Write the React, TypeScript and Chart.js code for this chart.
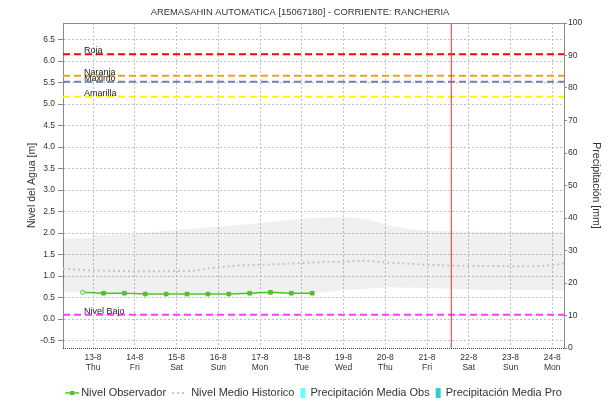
import React, { useEffect, useRef } from 'react';
import { Chart, registerables } from 'chart.js';

Chart.register(...registerables);

// ---------- data ----------
const chartTitle = 'AREMASAHIN AUTOMATICA [15067180] - CORRIENTE: RANCHERIA';
const leftAxisTitle = 'Nivel del Agua [m]';
const rightAxisTitle = 'Precipitación [mm]';

// x values are days counted from 13-8 00:00
const dayLabels = ['13-8', '14-8', '15-8', '16-8', '17-8', '18-8', '19-8', '20-8', '21-8', '22-8', '23-8', '24-8'];
const weekdayLabels = ['Thu', 'Fri', 'Sat', 'Sun', 'Mon', 'Tue', 'Wed', 'Thu', 'Fri', 'Sat', 'Sun', 'Mon'];
const xRange = [-0.72, 11.28];

const levelRange = [-0.674, 6.884];
const levelTicks = [-0.5, 0, 0.5, 1, 1.5, 2, 2.5, 3, 3.5, 4, 4.5, 5, 5.5, 6, 6.5];
const precipRange = [0, 100];
const precipTicks = [0, 10, 20, 30, 40, 50, 60, 70, 80, 90, 100];

const obsTimes = [-0.25, 0.25, 0.75, 1.25, 1.75, 2.25, 2.75, 3.25, 3.75, 4.25, 4.75, 5.25];
const obsLevels = [0.62, 0.6, 0.6, 0.58, 0.58, 0.58, 0.58, 0.58, 0.6, 0.62, 0.6, 0.6];

const histTimes = [-0.72, 0, 1, 1.6, 2.4, 2.8, 3.4, 4, 4.8, 5.6, 6, 6.4, 7, 8, 8.6, 9.8, 10.6, 11, 11.28];
const histMean = [1.17, 1.13, 1.11, 1.11, 1.12, 1.18, 1.24, 1.26, 1.29, 1.33, 1.33, 1.36, 1.32, 1.26, 1.24, 1.23, 1.23, 1.25, 1.29];

const bandTimes = [-0.72, -0.02, 0, 1, 1.6, 2, 3, 4, 5, 5.5, 6, 6.5, 7, 7.5, 8, 9, 10, 11.28];
const bandHigh = [1.87, 1.88, 1.95, 1.98, 2.04, 2.07, 2.15, 2.23, 2.34, 2.36, 2.37, 2.33, 2.2, 2.1, 2.05, 2.03, 2.02, 2.02];
const bandLow = [0.62, 0.62, 0.61, 0.6, 0.6, 0.6, 0.6, 0.6, 0.61, 0.62, 0.67, 0.7, 0.74, 0.73, 0.72, 0.68, 0.67, 0.67];

const thresholdNames = ['Roja', 'Naranja', 'Maximo', 'Amarilla', 'Nivel Bajo'];
const thresholdValues = [6.16, 5.66, 5.52, 5.17, 0.1];
const thresholdColors = ['#ff0000', '#ff9a1f', '#7282b2', '#f8f800', '#ff3cff'];

const nowTime = 8.58;

const legendLabels = ['Nivel Observador', 'Nivel Medio Historico', 'Precipitación Media Obs', 'Precipitación Media Pro'];

// ---------- styles ----------
const FONT = '"Liberation Sans", Arial, Helvetica, sans-serif';
const obsColor = 'rgb(82,192,44)';
const histColor = '#c4c4c4';
const gridColor = '#c2c2c2';
const axisColor = '#8a8a8a';
const textColor = '#333333';
const precipObsColor = '#66ffff';
const precipProColor = '#33cccc';

const pts = (xs: number[], ys: number[]) => xs.map((x, i) => ({ x, y: ys[i] }));

const decorPlugin = {
  id: 'decor',
  afterDraw(chart: any) {
    const { ctx, chartArea, scales } = chart;
    const { left, right, top, bottom } = chartArea;
    ctx.save();

    // plot outline top + dotted bottom axis line
    ctx.strokeStyle = axisColor;
    ctx.lineWidth = 1;
    ctx.beginPath();
    ctx.moveTo(left, top + 0.5);
    ctx.lineTo(right, top + 0.5);
    ctx.stroke();
    ctx.strokeStyle = '#444';
    ctx.setLineDash([1, 1]);
    ctx.beginPath();
    ctx.moveTo(left, bottom + 0.5);
    ctx.lineTo(right, bottom + 0.5);
    ctx.stroke();
    ctx.setLineDash([]);

    // threshold labels
    ctx.fillStyle = '#222';
    ctx.font = `9px ${FONT}`;
    ctx.textAlign = 'left';
    ctx.textBaseline = 'alphabetic';
    thresholdNames.forEach((name, i) => {
      const y = scales.y.getPixelForValue(thresholdValues[i]);
      ctx.fillText(name, left + 21, y - 1);
    });

    // title
    ctx.fillStyle = textColor;
    ctx.font = `10px ${FONT}`;
    const w10 = ctx.measureText(chartTitle).width;
    const size = Math.min(11, Math.max(8, (10 * 299) / w10));
    ctx.font = `${size.toFixed(2)}px ${FONT}`;
    ctx.textAlign = 'center';
    ctx.fillText(chartTitle, 300, 15);

    // legend
    ctx.font = `11px ${FONT}`;
    ctx.textAlign = 'left';
    ctx.textBaseline = 'middle';
    const ly = 393;
    const markerW = [14, 15, 5, 5];
    const markerGap = [2, 4, 5, 5];
    const itemGap = 6;
    const widths = legendLabels.map((l) => ctx.measureText(l).width);
    let total = 0;
    widths.forEach((w, i) => {
      total += markerW[i] + markerGap[i] + w + (i < widths.length - 1 ? itemGap : 0);
    });
    let sx = (left + right) / 2 - total / 2;
    legendLabels.forEach((label, i) => {
      if (i === 0) {
        ctx.strokeStyle = obsColor;
        ctx.lineWidth = 1.5;
        ctx.beginPath();
        ctx.moveTo(sx, ly);
        ctx.lineTo(sx + markerW[i], ly);
        ctx.stroke();
        ctx.fillStyle = obsColor;
        ctx.fillRect(sx + markerW[i] / 2 - 2, ly - 2, 4, 4);
      } else if (i === 1) {
        ctx.strokeStyle = histColor;
        ctx.lineWidth = 2;
        ctx.setLineDash([2, 3]);
        ctx.beginPath();
        ctx.moveTo(sx, ly);
        ctx.lineTo(sx + markerW[i], ly);
        ctx.stroke();
        ctx.setLineDash([]);
      } else {
        ctx.fillStyle = i === 2 ? precipObsColor : precipProColor;
        ctx.fillRect(sx, ly - 5, markerW[i], 10);
      }
      sx += markerW[i] + markerGap[i];
      ctx.fillStyle = textColor;
      ctx.fillText(label, sx, ly);
      sx += widths[i] + itemGap;
    });

    ctx.restore();
  },
};

export default function App() {
  const ref = useRef<HTMLCanvasElement>(null);

  useEffect(() => {
    const canvas = ref.current;
    if (!canvas) return;
    Chart.defaults.font.family = FONT;

    const thresholdSets = thresholdNames.map((name, i) => ({
      label: name,
      data: [
        { x: xRange[0], y: thresholdValues[i] },
        { x: xRange[1], y: thresholdValues[i] },
      ],
      borderColor: thresholdColors[i],
      borderWidth: 2,
      borderDash: [7, 4],
      pointRadius: 0,
      fill: false,
      order: 5,
      yAxisID: 'y',
    }));

    const chart = new Chart(canvas, {
      type: 'line',
      data: {
        datasets: [
          {
            label: 'band-low',
            data: pts(bandTimes, bandLow),
            borderWidth: 0,
            borderColor: 'rgba(0,0,0,0)',
            pointRadius: 0,
            fill: false,
            order: 10,
            yAxisID: 'y',
          },
          {
            label: 'band-high',
            data: pts(bandTimes, bandHigh),
            borderWidth: 0,
            borderColor: 'rgba(0,0,0,0)',
            backgroundColor: 'rgba(0,0,0,0.06)',
            pointRadius: 0,
            fill: '-1',
            order: 10,
            yAxisID: 'y',
          },
          {
            label: 'Nivel Medio Historico',
            data: pts(histTimes, histMean),
            borderColor: histColor,
            borderWidth: 2,
            borderDash: [2, 3],
            pointRadius: 0,
            fill: false,
            order: 9,
            yAxisID: 'y',
          },
          ...thresholdSets,
          {
            label: 'now',
            data: [
              { x: nowTime, y: levelRange[0] },
              { x: nowTime, y: levelRange[1] },
            ],
            borderColor: '#dd3333',
            borderWidth: 1,
            pointRadius: 0,
            fill: false,
            order: 4,
            yAxisID: 'y',
          },
          {
            label: 'Nivel Observador',
            data: pts(obsTimes, obsLevels),
            borderColor: obsColor,
            borderWidth: 1.5,
            pointStyle: (c: any) => (c.dataIndex === 0 ? 'circle' : 'rect'),
            pointRadius: (c: any) => (c.dataIndex === 0 ? 2 : 2.6),
            pointBackgroundColor: (c: any) => (c.dataIndex === 0 ? '#ffffff' : obsColor),
            pointBorderColor: obsColor,
            pointBorderWidth: 1,
            fill: false,
            order: 1,
            yAxisID: 'y',
          },
        ],
      },
      options: {
        responsive: false,
        devicePixelRatio: 1,
        animation: false,
        events: [],
        layout: { padding: { top: 23, bottom: 27, left: 0, right: 0 } },
        plugins: {
          legend: { display: false },
          title: { display: false },
          tooltip: { enabled: false },
        },
        elements: { line: { tension: 0 } },
        scales: {
          x: {
            type: 'linear',
            offset: false,
            min: xRange[0],
            max: xRange[1],
            afterBuildTicks: (s: any) => {
              s.ticks = dayLabels.map((_, i) => ({ value: i }));
            },
            afterFit: (s: any) => {
              s.height = 30;
            },
            grid: { color: gridColor, lineWidth: 1, drawTicks: false, offset: false },
            border: { display: false, dash: [2, 2] },
            ticks: {
              autoSkip: false,
              maxRotation: 0,
              padding: 4,
              color: textColor,
              font: { size: 8.5, lineHeight: 1.25 },
              callback: (v: any) => {
                const i = Math.round(Number(v));
                return [dayLabels[i], weekdayLabels[i]];
              },
            },
          },
          y: {
            type: 'linear',
            position: 'left',
            min: levelRange[0],
            max: levelRange[1],
            afterBuildTicks: (s: any) => {
              s.ticks = levelTicks.map((v) => ({ value: v }));
            },
            afterFit: (s: any) => {
              s.width = 63;
            },
            grid: { color: gridColor, lineWidth: 1, drawTicks: true, tickLength: 5, tickColor: axisColor },
            border: { display: true, color: axisColor, width: 1, dash: [2, 2] },
            ticks: {
              padding: 3,
              color: textColor,
              font: { size: 8.5 },
              callback: (v: any) => Number(v).toFixed(1),
            },
            title: {
              display: true,
              text: leftAxisTitle,
              color: textColor,
              font: { size: 10.5 },
              padding: { top: 25.4, bottom: 0 },
            },
          },
          y1: {
            type: 'linear',
            position: 'right',
            min: precipRange[0],
            max: precipRange[1],
            afterBuildTicks: (s: any) => {
              s.ticks = precipTicks.map((v) => ({ value: v }));
            },
            afterFit: (s: any) => {
              s.width = 46;
            },
            grid: { drawOnChartArea: false, drawTicks: true, tickLength: 3, color: axisColor },
            border: { display: true, color: axisColor, width: 1 },
            ticks: {
              padding: 1,
              color: textColor,
              font: { size: 8.5 },
            },
            title: {
              display: true,
              text: rightAxisTitle,
              color: textColor,
              font: { size: 10.5 },
              padding: { top: 7.7, bottom: 0 },
            },
          },
        },
      },
      plugins: [decorPlugin],
    } as any);

    return () => chart.destroy();
  }, []);

  return (
    <div style={{ position: 'absolute', left: 0, top: 0, width: 610, height: 405, background: '#ffffff' }}>
      <canvas ref={ref} width={610} height={405} style={{ display: 'block', width: 610, height: 405 }} />
    </div>
  );
}
